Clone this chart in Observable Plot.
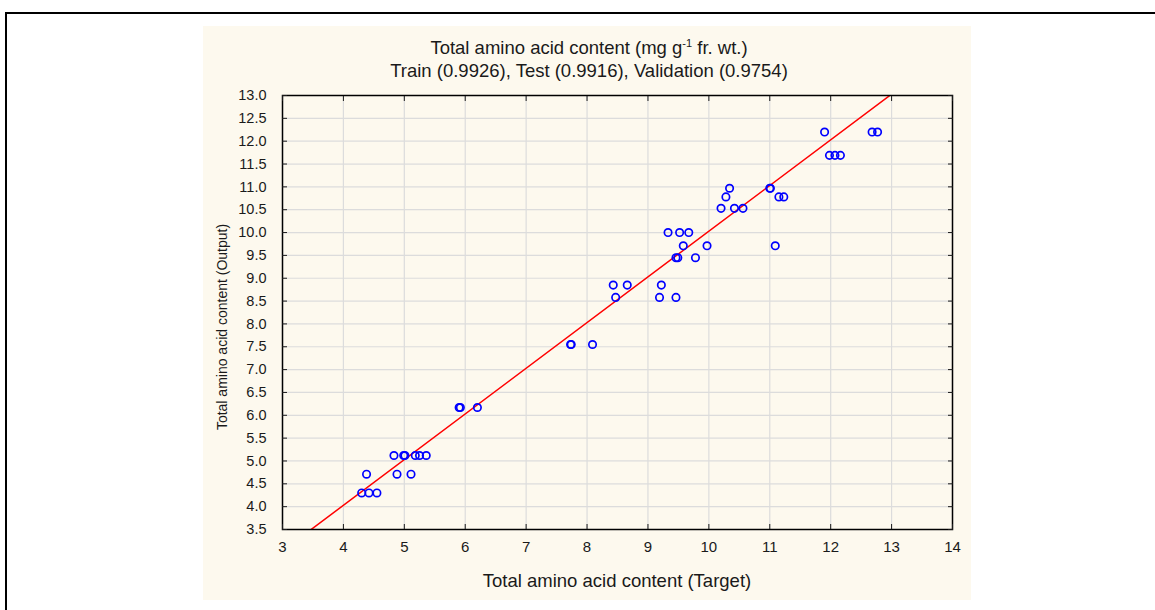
<!DOCTYPE html>
<html><head><meta charset="utf-8">
<script src="https://cdn.jsdelivr.net/npm/d3@7"></script>
<script src="https://cdn.jsdelivr.net/npm/@observablehq/plot@0.6"></script>
<style>
body{margin:0;background:#fff;}
#wrap{position:relative;width:1155px;height:610px;overflow:hidden;font-family:"Liberation Sans",Arial,sans-serif;}
#border{position:absolute;left:5px;top:12px;width:1200px;height:700px;border:2px solid #000;box-sizing:border-box;}
#panel{position:absolute;left:203px;top:26px;width:768px;height:574px;background:#fdf9ee;}
#chart{position:absolute;left:0;top:0;}
.t{position:absolute;white-space:nowrap;color:#1a1a1a;transform:translate(-50%,-50%);}
.n{font-family:"Liberation Sans Narrow","Arial Narrow","Liberation Sans",Arial,sans-serif;font-size:18.5px;}
#t1{left:589px;top:48px;}
#t2{left:589px;top:71px;}
#xl{left:617px;top:581px;}
#yl{left:222px;top:327px;transform:translate(-50%,-50%) rotate(-90deg);font-size:14px;}
sup{font-size:11px;vertical-align:7px;line-height:0;}
</style></head><body>
<div id="wrap">
  <div id="border"></div>
  <div id="panel"></div>
  <div id="chart"></div>
  <div class="t n" id="t1">Total amino acid content (mg g<sup>-1</sup> fr. wt.)</div>
  <div class="t n" id="t2">Train (0.9926), Test (0.9916), Validation (0.9754)</div>
  <div class="t n" id="xl">Total amino acid content (Target)</div>
  <div class="t" id="yl">Total amino acid content (Output)</div>
</div>
<script>
// Tick values
const xTicks = [3,4,5,6,7,8,9,10,11,12,13,14];
const yTicks = [3.5,4,4.5,5,5.5,6,6.5,7,7.5,8,8.5,9,9.5,10,10.5,11,11.5,12,12.5,13];

// Observations: target (x) and network output (y)
const target = [
  4.30,4.42,4.55,
  4.38,4.88,5.11,
  4.83,4.99,5.01,5.18,5.25,5.36,
  5.90,5.92,6.20,
  7.73,7.74,8.09,
  8.47,9.19,9.46,
  8.43,8.66,9.22,
  9.46,9.49,9.78,
  9.58,9.97,11.09,
  9.33,9.52,9.67,
  10.20,10.42,10.56,
  10.28,11.15,11.23,
  10.34,11.00,11.01,
  11.98,12.07,12.16,
  11.90,12.68,12.77
];
const output = [
  4.30,4.30,4.30,
  4.71,4.71,4.71,
  5.12,5.12,5.12,5.12,5.12,5.12,
  6.17,6.17,6.17,
  7.55,7.55,7.55,
  8.58,8.58,8.58,
  8.85,8.85,8.85,
  9.45,9.45,9.45,
  9.71,9.71,9.71,
  10.00,10.00,10.00,
  10.53,10.53,10.53,
  10.78,10.78,10.78,
  10.97,10.97,10.97,
  11.69,11.69,11.69,
  12.20,12.20,12.20
];

// Fitted line: output = slope * target + intercept
const fitSlope = 1.0;
const fitIntercept = 0.03;

const points = target.map((x, i) => ({x, y: output[i]}));
const xDomain = [xTicks[0], xTicks[xTicks.length - 1]];
const yDomain = [yTicks[0], yTicks[yTicks.length - 1]];
const fitLine = xDomain.map(x => ({x, y: fitSlope * x + fitIntercept}));

const chart = Plot.plot({
  width: 1155,
  height: 610,
  marginLeft: 282,
  marginRight: 203,
  marginTop: 95,
  marginBottom: 81,
  style: {background: "transparent", fontFamily: "'Liberation Sans', Arial, sans-serif", fontSize: "14px", color: "#1a1a1a"},
  x: {domain: xDomain},
  y: {domain: yDomain},
  marks: [
    Plot.gridX(xTicks, {stroke: "#dcdcdc", strokeOpacity: 1, strokeWidth: 1.2}),
    Plot.gridY(yTicks, {stroke: "#dcdcdc", strokeOpacity: 1, strokeWidth: 1.2}),
    Plot.line(fitLine, {x: "x", y: "y", stroke: "#ff0000", strokeWidth: 1.5, clip: true}),
    Plot.dot(points, {x: "x", y: "y", r: 3.7, stroke: "#0000ff", strokeWidth: 1.7}),
    Plot.frame({stroke: "#000", strokeWidth: 1.5}),
    Plot.axisX(xTicks, {anchor: "bottom", tickSize: -5, tickFormat: () => "", label: null}),
    Plot.axisX(xTicks, {anchor: "top", tickSize: -5, tickFormat: () => "", label: null}),
    Plot.axisY(yTicks, {anchor: "left", tickSize: -5, tickFormat: () => "", label: null}),
    Plot.axisY(yTicks, {anchor: "right", tickSize: -5, tickFormat: () => "", label: null}),
    Plot.axisX(xTicks, {anchor: "bottom", tickSize: 0, tickPadding: 12, fontSize: 15, tickFormat: d3.format("d"), label: null}),
    Plot.axisY(yTicks, {anchor: "left", tickSize: 0, tickPadding: 16, fontSize: 14.5, tickFormat: d3.format(".1f"), label: null})
  ]
});
document.getElementById("chart").appendChild(chart);
</script>
</body></html>
